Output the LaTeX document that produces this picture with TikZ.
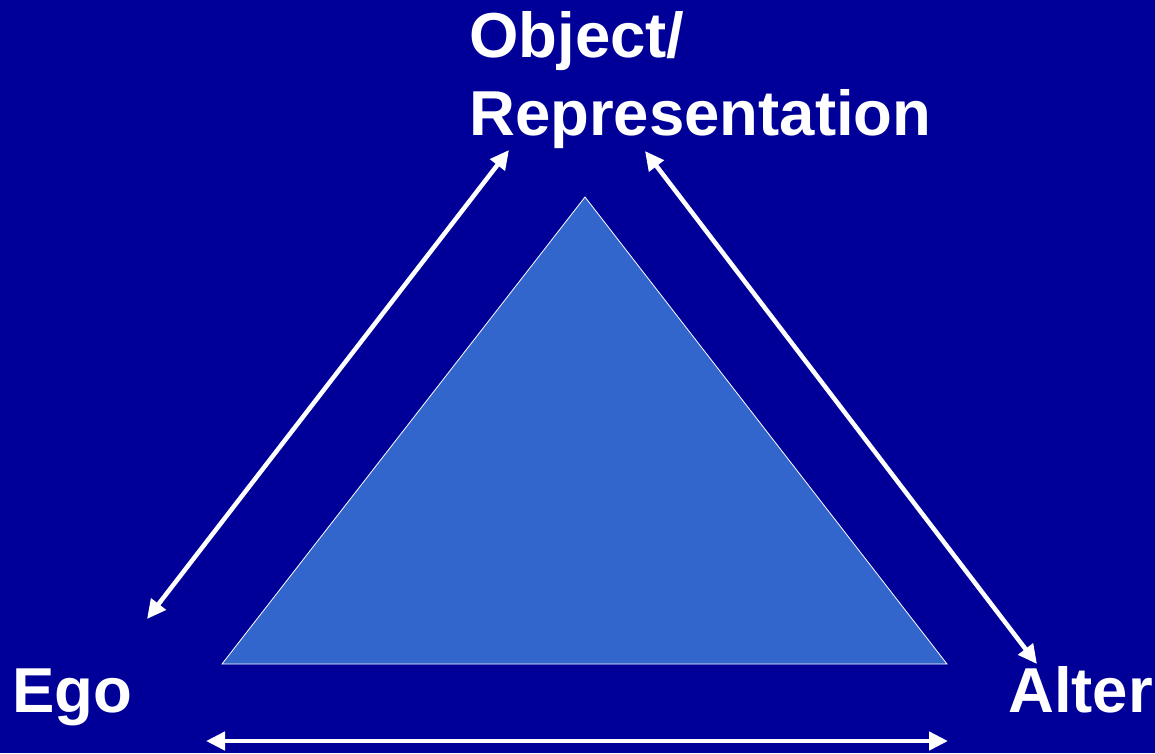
\documentclass[tikz,border=0pt]{standalone}
\usepackage{fontspec}
\setmainfont{Liberation Sans}
\usetikzlibrary{arrows.meta}
\definecolor{slidebg}{RGB}{0,0,153}
\definecolor{trifill}{RGB}{51,102,204}

\begin{document}
\begin{tikzpicture}[
    x=1pt, y=-1pt,
    lab/.style={anchor=base west, inner sep=0pt, text=white,
        font=\fontsize{63.5}{63.5}\selectfont\bfseries},
    link/.style={{Triangle[length=19pt,width=18pt]}-{Triangle[length=19pt,width=18pt]},
        line width=4.5pt, white},
]
    \fill[slidebg] (0,0) rectangle (1155,753);
    \useasboundingbox (0,0) rectangle (1155,753);
    % the triangle
    \coordinate (apex) at (585,197);
    \coordinate (baseL) at (222,664);
    \coordinate (baseR) at (947,664);
    \draw[white, line width=0.8pt, fill=trifill] (apex) -- (baseL) -- (baseR) -- cycle;
    % labels
    \node[lab] (obj1) at (469,57) {Object/};
    \node[lab] (obj2) at (469,135) {Representation};
    \node[lab] (ego) at (12,712) {Ego};
    \node[lab] (alter) at (1008,712) {Alter};
    % arrow ends
    \coordinate (egoT) at (147,619);
    \coordinate (objL) at (509,150);
    \coordinate (objR) at (645,151);
    \coordinate (alterT) at (1037,664);
    \coordinate (botL) at (206,741);
    \coordinate (botR) at (948,741);
    \draw[link] (egoT) -- (objL);
    \draw[link] (objR) -- (alterT);
    \draw[link] (botL) -- (botR);
\end{tikzpicture}
\end{document}
